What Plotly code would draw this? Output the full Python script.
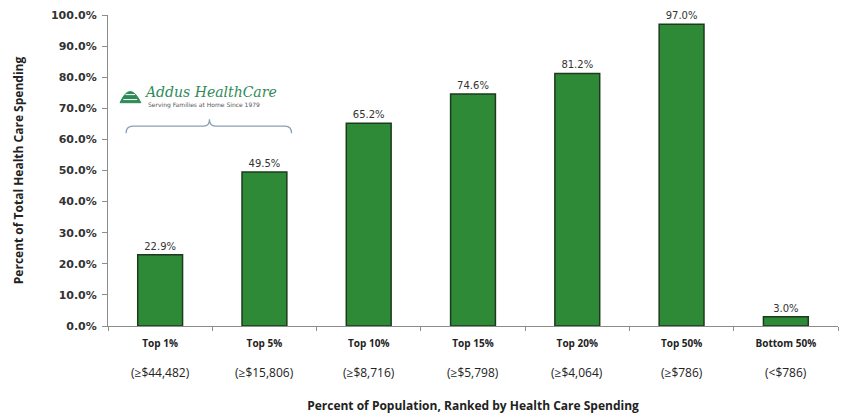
import plotly.graph_objects as go

categories = ["Top 1%", "Top 5%", "Top 10%", "Top 15%", "Top 20%", "Top 50%", "Bottom 50%"]
thresholds = ["(≥$44,482)", "(≥$15,806)", "(≥$8,716)", "(≥$5,798)", "(≥$4,064)", "(≥$786)", "(<$786)"]
shares = [22.9, 49.5, 65.2, 74.6, 81.2, 97.0, 3.0]
y_ticks = [0, 10, 20, 30, 40, 50, 60, 70, 80, 90, 100]

fig = go.Figure()
fig.add_trace(go.Bar(
    x=categories, y=shares,
    marker=dict(color="#2F8A37", line=dict(color="#1C3A1C", width=1.5)),
    width=0.43,
    text=[f"{v:.1f}%" for v in shares],
    textposition="outside",
    textfont=dict(family="DejaVu Sans", size=10, color="#333333"),
    cliponaxis=False,
))

# second line of category labels
for c, t in zip(categories, thresholds):
    fig.add_annotation(x=c, xref="x", y=-0.148, yref="paper", text=t, showarrow=False,
                       font=dict(family="Open Sans", size=12, color="#222222"), yanchor="middle")

# logo
fig.add_annotation(x=0.0465, xref="paper", y=0.753, yref="paper", text="<i>Addus HealthCare</i>",
                   showarrow=False, xanchor="left", yanchor="middle",
                   font=dict(family="DejaVu Serif", size=14, color="#2E8B57"))
fig.add_annotation(x=0.052, xref="paper", y=0.712, yref="paper", text="Serving Families at Home Since 1979",
                   showarrow=False, xanchor="left", yanchor="middle",
                   font=dict(family="DejaVu Sans", size=6, color="#555555"))
# logo icon (dome)
fig.add_shape(type="path", xref="paper", yref="paper",
              path="M 0.0165 0.718 Q 0.030 0.790 0.045 0.718 Z",
              fillcolor="#2E8B57", line=dict(color="#2E8B57", width=1))
for k in range(3):
    yy = 0.728 + k * 0.016
    fig.add_shape(type="line", xref="paper", yref="paper",
                  x0=0.021 + k * 0.003, x1=0.040 - k * 0.003, y0=yy, y1=yy,
                  line=dict(color="white", width=1))

# bracket
bc = "#8A9DB5"
fig.add_shape(type="path", xref="paper", yref="paper",
              path="M 0.0247 0.620 Q 0.0247 0.643 0.034 0.643 L 0.131 0.643 Q 0.139 0.643 0.139 0.665 "
                   "Q 0.139 0.643 0.147 0.643 L 0.2425 0.643 Q 0.2515 0.643 0.2515 0.620",
              line=dict(color=bc, width=1.2))

fig.update_layout(
    width=842, height=417,
    margin=dict(l=108, r=4, t=15, b=91),
    plot_bgcolor="white", paper_bgcolor="white",
    showlegend=False,
    bargap=0.57,
    xaxis=dict(
        type="category", showline=True, linecolor="#8C8C8C", linewidth=1,
        ticks="outside", tickson="boundaries", ticklen=4, tickcolor="#8C8C8C",
        tickvals=categories, ticktext=[f"<b>{c}</b>" for c in categories],
        tickfont=dict(family="Open Sans", size=10, color="#222222"),
        ticklabelstandoff=8,
        title=dict(text="<b>Percent of Population, Ranked by Health Care Spending</b>",
                   font=dict(family="Open Sans", size=12, color="#222222"), standoff=52),
        showgrid=False,
    ),
    yaxis=dict(
        range=[0, 100], tickvals=y_ticks,
        ticktext=[f"<b>{v:.1f}%</b>" for v in y_ticks],
        tickfont=dict(family="DejaVu Sans", size=11, color="#333333"),
        showline=True, linecolor="#8C8C8C", linewidth=1,
        ticks="outside", ticklen=5, tickcolor="#8C8C8C",
        ticklabelstandoff=3,
        showgrid=False, zeroline=False,
        title=dict(text="<b>Percent of Total Health Care Spending</b>",
                   font=dict(family="Open Sans", size=12, color="#222222"), standoff=24),
    ),
)

fig.write_html("out.html")
